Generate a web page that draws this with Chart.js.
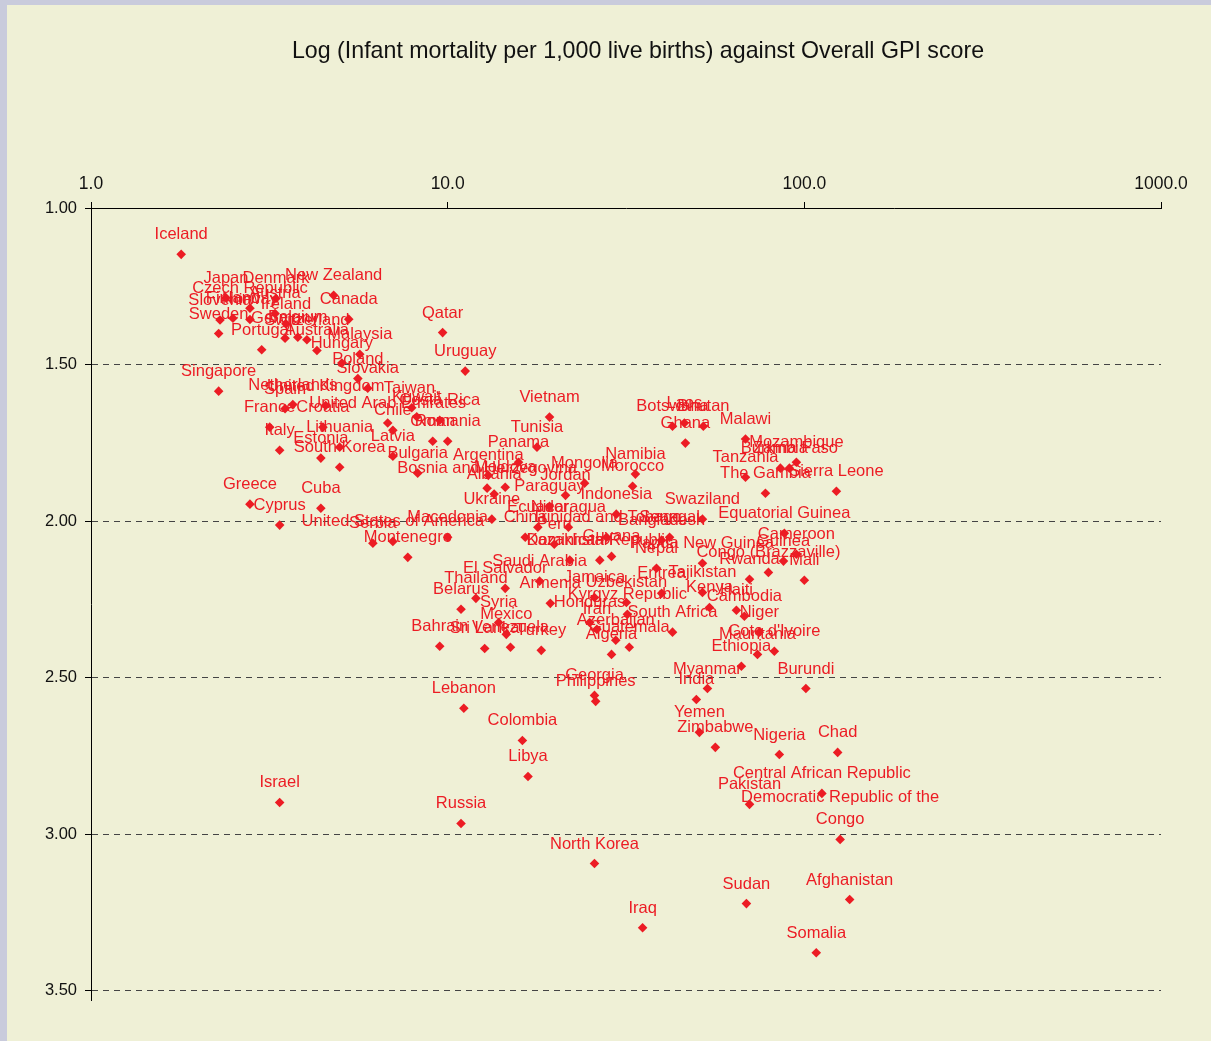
<!DOCTYPE html>
<html><head><meta charset="utf-8">
<script src="https://cdn.jsdelivr.net/npm/chart.js@4"></script>
<style>html,body{margin:0;padding:0;background:#EFF0D6;}canvas{display:block}</style>
</head><body>
<div style="width:1211px;height:1041px"><canvas id="c" width="1211" height="1041"></canvas></div>
<script>
const countries = ["Iceland","Japan","Denmark","New Zealand","Czech Republic","Austria","Slovenia","Finland","Norway","Canada","Ireland","Sweden","Germany","Belgium","Switzerland","Portugal","Australia","Malaysia","Hungary","Qatar","Uruguay","Poland","Slovakia","Singapore","Netherlands","Spain","United Kingdom","Taiwan,","Kuwait","United Arab Emirates","Costa Rica","Chile","France","Croatia","Oman","Romania","Italy","Lithuania","Latvia","Estonia","South Korea","Bulgaria","Vietnam","Tunisia","Panama","Argentina","Bosnia and Herzegovina","Moldova","Albania","Mongolia","Jordan","Paraguay","Namibia","Morocco","Indonesia","Ukraine","Greece","Cyprus","Cuba","Serbia","United States of America","Montenegro","Macedonia","Botswana","Laos","Bhutan","Ghana","Malawi","Mozambique","Burkina Faso","Zambia","Tanzania","The Gambia","Sierra Leone","Swaziland","Equatorial Guinea","Guinea","Congo (Brazzaville)","Rwanda","Mali","Cameroon","Kenya","Haiti","Cambodia","Tajikistan","Eritrea","Jamaica","Uzbekistan","Kyrgyz Republic","Honduras","Iran","South Africa","Azerbaijan","Guatemala","Algeria","Niger","Cote d'Ivoire","Mauritania","Ethiopia","Myanmar","India","Burundi","Georgia","Philippines","Lebanon","Colombia","Libya","Israel","Russia","North Korea","Iraq","Sudan","Afghanistan","Somalia","Democratic Republic of the\nCongo","Central African Republic","Pakistan","Yemen","Zimbabwe","Nigeria","Chad","Saudi Arabia","El Salvador","Thailand","Belarus","Syria","Mexico","Armenia","Bahrain","Sri Lanka","Venezuela","Turkey","Bangladesh","Guyana","Dominican Republic","Kazakhstan","Nepal","Papua New Guinea","Peru","Ecuador","Nicaragua","China","Trinidad and Tobago","Senegal"];
const infantMortality = [1.79,2.39,3.30,4.79,2.79,3.28,2.30,2.50,2.79,5.28,3.52,2.28,3.50,3.80,4.03,3.01,4.30,5.67,5.05,9.68,11.2,5.60,5.97,2.28,3.68,3.50,4.55,7.93,8.19,6.79,9.50,7.02,3.17,4.47,9.08,10.0,3.38,4.98,7.02,4.41,4.98,8.24,19.3,17.8,15.8,13.0,12.9,14.5,13.5,24.2,21.4,19.3,33.6,33.0,29.7,13.3,2.79,3.38,4.41,6.17,7.02,7.73,10.0,42.7,46.1,52.1,46.4,68.4,95.0,90.8,85.7,68.4,77.8,123,51.8,87.9,87.4,79.3,70.2,100,95.0,54.2,64.5,67.9,51.8,39.8,25.8,31.7,31.9,25.0,26.2,42.7,29.6,32.3,28.8,74.8,82.4,73.9,66.6,53.5,49.8,101,25.8,26.0,11.1,16.2,16.8,3.38,10.9,25.8,35.2,68.8,134,108,126,112,70.2,50.8,56.3,85.1,124,18.1,14.5,12.0,10.9,13.9,14.6,19.4,9.50,12.7,15.0,18.3,39.8,28.8,26.7,22.0,38.5,51.8,19.9,17.9,21.8,16.5,27.9,41.9];
const gpiScore = [1.148,1.287,1.289,1.279,1.320,1.337,1.358,1.352,1.356,1.355,1.370,1.401,1.416,1.413,1.421,1.453,1.455,1.467,1.495,1.398,1.521,1.545,1.576,1.585,1.628,1.641,1.631,1.638,1.667,1.687,1.678,1.710,1.700,1.700,1.745,1.745,1.774,1.764,1.793,1.799,1.828,1.847,1.668,1.764,1.812,1.854,1.895,1.892,1.914,1.879,1.918,1.953,1.850,1.889,1.978,1.994,1.946,2.013,1.959,2.071,2.065,2.116,2.052,1.697,1.687,1.697,1.751,1.738,1.812,1.831,1.831,1.860,1.911,1.905,1.994,2.039,2.128,2.164,2.186,2.189,2.106,2.276,2.285,2.304,2.228,2.231,2.244,2.260,2.298,2.324,2.346,2.355,2.381,2.403,2.426,2.355,2.416,2.426,2.464,2.535,2.570,2.535,2.557,2.576,2.598,2.701,2.816,2.899,2.966,3.094,3.299,3.222,3.209,3.379,3.017,2.870,2.905,2.675,2.723,2.746,2.739,2.192,2.215,2.247,2.282,2.324,2.362,2.263,2.400,2.407,2.403,2.413,2.061,2.113,2.125,2.125,2.151,2.135,2.074,2.020,2.020,2.052,2.052,2.052];
const xTicks = [1, 10, 100, 1000];
const yTicks = [1.0, 1.5, 2.0, 2.5, 3.0, 3.5];
const titleText = "Log (Infant mortality per 1,000 live births) against Overall GPI score";

const RED = '#EC1C24';
const FONT = "'Liberation Sans', Arial, sans-serif";

const bgPlugin = {
  id: 'bg',
  beforeDraw(chart) {
    const ctx = chart.ctx;
    ctx.save();
    ctx.fillStyle = '#C9CBDC';
    ctx.fillRect(0, 0, chart.width, chart.height);
    ctx.fillStyle = '#EFF0D6';
    ctx.fillRect(7, 5, chart.width - 7, chart.height - 5);
    ctx.fillStyle = '#111';
    ctx.font = '23.2px ' + FONT;
    ctx.textAlign = 'center';
    ctx.textBaseline = 'alphabetic';
    ctx.fillText(titleText, 638, 58);
    ctx.restore();
  }
};

const labelPlugin = {
  id: 'labels',
  afterDatasetsDraw(chart) {
    const ctx = chart.ctx;
    const meta = chart.getDatasetMeta(0);
    ctx.save();
    ctx.fillStyle = RED;
    ctx.font = '16.5px ' + FONT;
    ctx.textAlign = 'center';
    ctx.textBaseline = 'alphabetic';
    meta.data.forEach((pt, i) => {
      const lines = countries[i].split('\n');
      const n = lines.length;
      lines.forEach((ln, j) => {
        ctx.fillText(ln, pt.x, pt.y - 15 - (n - 1 - j) * 22);
      });
    });
    ctx.restore();
  }
};

new Chart(document.getElementById('c'), {
  type: 'scatter',
  data: {
    datasets: [{
      data: countries.map((c, i) => ({x: infantMortality[i], y: gpiScore[i]})),
      pointStyle: 'rectRot',
      radius: 4.8,
      backgroundColor: RED,
      borderColor: RED,
      borderWidth: 0
    }]
  },
  options: {
    responsive: false,
    animation: false,
    devicePixelRatio: 1,
    layout: {padding: {left: 0, right: 50, top: 0, bottom: 41}},
    plugins: {legend: {display: false}, title: {display: false}, tooltip: {enabled: false}},
    scales: {
      x: {
        type: 'logarithmic', position: 'top', min: 1, max: 1000,
        afterBuildTicks: s => { s.ticks = xTicks.map(v => ({value: v})); },
        afterFit: s => { s.height = 208; },
        ticks: {callback: v => Number(v).toFixed(1), color: '#111', font: {size: 17.5, family: FONT}, padding: 7, maxRotation: 0, autoSkip: false},
        grid: {drawOnChartArea: false, tickLength: 6, color: '#000', tickColor: '#000'},
        border: {color: '#000', width: 1}
      },
      y: {
        type: 'linear', reverse: true, min: 1, max: 3.53,
        afterBuildTicks: s => { s.ticks = yTicks.map(v => ({value: v})); },
        afterFit: s => { s.width = 91; },
        ticks: {callback: v => Number(v).toFixed(2), color: '#111', font: {size: 16.5, family: FONT}, padding: 8},
        grid: {color: '#444', tickLength: 6, tickColor: '#000', tickBorderDash: []},
        border: {color: '#000', width: 1, dash: [6, 5]}
      }
    }
  },
  plugins: [bgPlugin, labelPlugin]
});
</script>
</body></html>
